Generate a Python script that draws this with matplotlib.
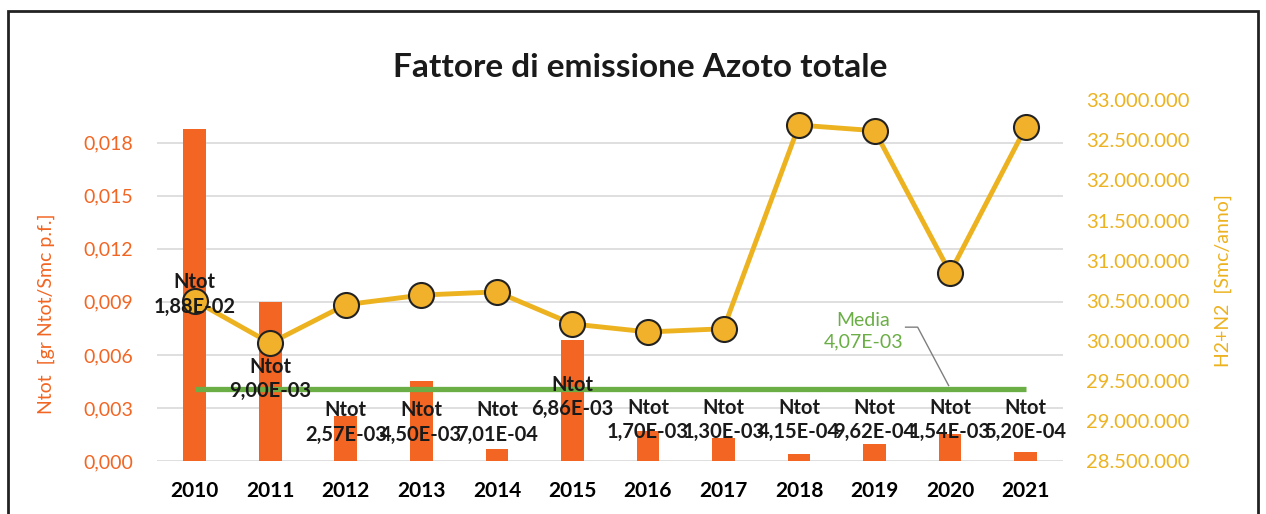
import numpy as np
import matplotlib
matplotlib.use("Agg")
import matplotlib.pyplot as plt
from matplotlib.ticker import FuncFormatter, FixedLocator
from matplotlib.patches import Rectangle

plt.rcParams['font.family'] = ['Lato', 'DejaVu Sans']

# data
years = ['2010', '2011', '2012', '2013', '2014', '2015',
         '2016', '2017', '2018', '2019', '2020', '2021']
ntot = [1.88e-02, 9.00e-03, 2.57e-03, 4.50e-03, 7.01e-04, 6.86e-03,
        1.70e-03, 1.30e-03, 4.15e-04, 9.62e-04, 1.54e-03, 5.20e-04]
h2n2 = [30.50e6, 29.97e6, 30.45e6, 30.57e6, 30.61e6, 30.21e6,
        30.11e6, 30.15e6, 32.69e6, 32.62e6, 30.85e6, 32.66e6]
media = 4.07e-03
# where the "Ntot" labels sit (left axis units), as placed by hand in the original
label_y = [0.0094, 0.00464, 0.0022, 0.0022, 0.0022, 0.00362,
           0.00232, 0.00232, 0.00232, 0.00232, 0.00232, 0.00232]

orange = '#F26522'
gold = '#EDB21F'
green = '#6AAE45'

fig = plt.figure(figsize=(12.66, 5.14), dpi=100)
ax = fig.add_axes([0.124, 0.103, 0.716, 0.702])
x = np.arange(len(years))

ax.bar(x, ntot, width=0.3, color=orange, zorder=2)
ax.set_ylim(0, 0.0204)
ax.set_xlim(-0.5, len(years) - 0.5)
ax.yaxis.set_major_locator(FixedLocator(np.arange(0, 0.0181, 0.003)))
ax.yaxis.set_major_formatter(FuncFormatter(lambda v, p: ('%.3f' % v).replace('.', ',')))
ax.grid(axis='y', color='#d9d9d9', lw=1.2, zorder=0)
ax.set_xticks(x)
ax.set_xticklabels(years, fontweight='bold', fontsize=15)
ax.tick_params(axis='y', colors=orange, labelsize=14, length=0, pad=17)
ax.tick_params(axis='x', length=0, pad=14)
for s in ax.spines.values():
    s.set_visible(False)
ax.set_ylabel('Ntot  [gr Ntot/Smc p.f.]', color=orange, fontsize=14)
ax.yaxis.set_label_coords(-0.112, 0.407)

# media line with its callout
ax.plot([x[0], x[-1]], [media, media], color=green, lw=3.8, zorder=3, solid_capstyle='butt')
ax.text(8.85, 0.00735, 'Media\n' + ('%.2E' % media).replace('.', ','),
        color=green, fontsize=14, ha='center', va='center', linespacing=1.35, zorder=5)
ax.plot([9.41, 9.57, 9.98], [0.00757, 0.00757, media + 0.0002],
        color='#7f7f7f', lw=1, zorder=5)

ax2 = ax.twinx()
ax2.plot(x, h2n2, color=gold, lw=3.5, marker='o', ms=18, mfc='#F2B12A',
         mec='#222222', mew=1.5, zorder=4)
ax2.set_ylim(28.5e6, 33.0e6)
ax2.yaxis.set_major_locator(FixedLocator(np.arange(28.5e6, 33.01e6, 0.5e6)))
ax2.yaxis.set_major_formatter(FuncFormatter(lambda v, p: '{:,.0f}'.format(v).replace(',', '.')))
ax2.tick_params(axis='y', colors=gold, labelsize=14.5, length=0, pad=16)
for s in ax2.spines.values():
    s.set_visible(False)
ax2.set_ylabel('H2+N2  [Smc/anno]', color=gold, fontsize=14)
ax2.yaxis.set_label_coords(1.167, 0.5)

# bar labels, drawn on top of everything
ax3 = ax.twinx()
ax3.set_ylim(ax.get_ylim())
ax3.axis('off')
for xi, v, ly in zip(x, ntot, label_y):
    ax3.text(xi, ly, 'Ntot\n' + ('%.2E' % v).replace('.', ','), ha='center', va='center',
             fontsize=14.5, fontweight='bold', color='#1a1a1a', linespacing=1.3, zorder=6)

fig.text(0.506, 0.868, 'Fattore di emissione Azoto totale', ha='center', va='center',
         fontsize=24, fontweight='bold', color='#1a1a1a')

# chart frame
fig.patches.append(Rectangle((0.006, -0.02), 0.988, 0.998, transform=fig.transFigure,
                             fill=False, ec='#222222', lw=2))

fig.savefig('out.png', dpi=100)
